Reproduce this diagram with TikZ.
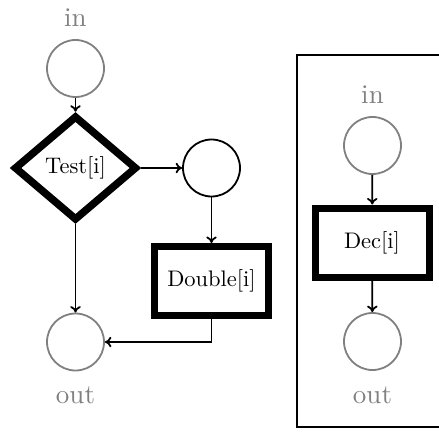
\documentclass[tikz,border=0pt]{standalone}
\usepackage{fontspec}
% one fixed design size of Latin Modern, scaled up
\setmainfont{lmroman10-regular.otf}
\usetikzlibrary{arrows.meta,shapes.geometric}
\begin{document}
\begin{tikzpicture}[x=1pt,y=1pt,
  place/.style={circle,draw=gray,line width=1.8pt,minimum size=57pt,inner sep=0pt},
  hotplace/.style={circle,draw=black,line width=1.8pt,minimum size=57pt,inner sep=0pt},
  portlabel/.style={text=gray,font=\fontsize{27}{32}\selectfont,inner sep=0pt},
  testbox/.style={diamond,draw=black,line width=7.5pt,minimum width=123pt,minimum height=105pt,inner sep=0pt,font=\fontsize{22.5}{27}\selectfont},
  actbox/.style={rectangle,draw=black,line width=7pt,minimum width=114pt,minimum height=69pt,inner sep=0pt,font=\fontsize{22.5}{27}\selectfont},
  flow/.style={line width=1.8pt,-{To[length=6.5pt,width=10.5pt]}},
  frame/.style={draw=black,line width=2pt}]
\clip (0,0) rectangle (439,432);

% left net: test, then double on one branch
\node[portlabel] (inLlbl) at (75.5,414) {in};
\node[place] (inL) at (75.5,363.5) {};
\node[testbox] (test) at (75.5,264) {Test[i]};
\node[hotplace] (mid) at (211.5,264) {};
\node[actbox] (dbl) at (211.5,151) {Double[i]};
\node[place] (outL) at (75.5,90) {};
\node[portlabel] (outLlbl) at (75.5,37) {out};

\draw[flow] (inL) -- (test);
\draw[flow] (test) -- (mid);
\draw[flow] (mid) -- (dbl);
\draw[flow] (test) -- (outL);
\draw[flow] (dbl.south) |- (outL.east);

% right net: decrement, inside its frame
\coordinate (frameSW) at (297,5);
\coordinate (frameNE) at (450,377);
\draw[frame] (frameSW) rectangle (frameNE);
\node[portlabel] (inRlbl) at (372.5,337) {in};
\node[place] (inR) at (372.5,286.5) {};
\node[actbox] (dec) at (372,189.5) {Dec[i]};
\node[place] (outR) at (372.5,90.5) {};
\node[portlabel] (outRlbl) at (372.5,37) {out};

\draw[flow] (inR) -- (dec);
\draw[flow] (dec) -- (outR);
\end{tikzpicture}
\end{document}
